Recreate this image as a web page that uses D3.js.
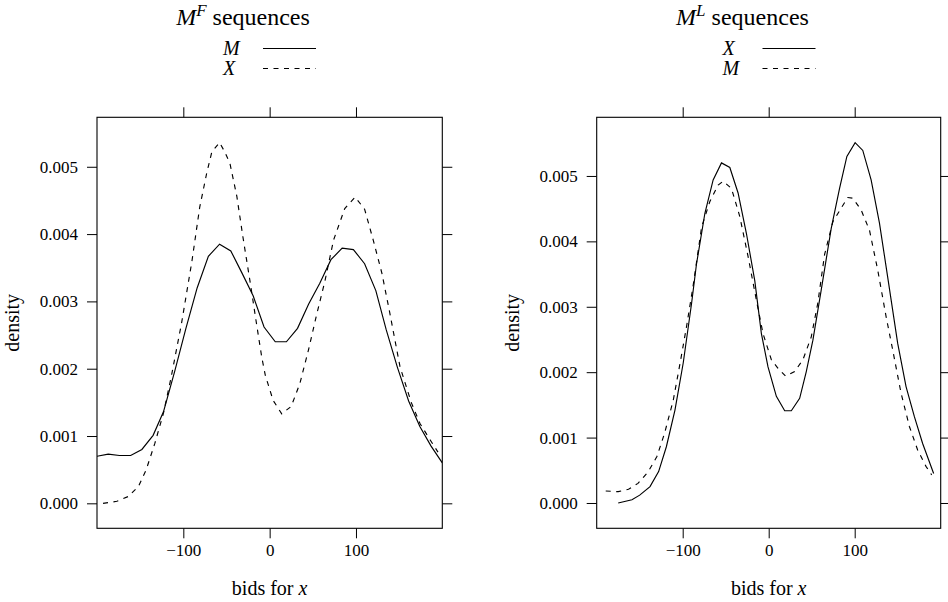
<!DOCTYPE html>
<html><head><meta charset="utf-8">
<script src="https://cdn.jsdelivr.net/npm/d3@7"></script>
<style>body{margin:0;background:#fff}svg{display:block}svg text{font-family:"Liberation Serif","Times New Roman","DejaVu Serif",serif !important;fill:#000}</style>
</head><body>
<svg id="c" width="948" height="602"></svg>
<script>
// ---- data ----
const xTicks = [-100, 0, 100];
const yTicks = [0, 0.001, 0.002, 0.003, 0.004, 0.005];

// Left panel: M^F sequences
const leftM_x = [-200,-187,-174,-161,-148,-135,-123,-110,-97,-84,-71,-58,-45,-32,-19,-6.5,6.5,19.4,32.3,45.2,58.1,71,84,97,110,123,135,148,161,174,187,200];
const leftM_y = [.00070,.00073,.00071,.00071,.00080,.00101,.00136,.00196,.00260,.00320,.00367,.00385,.00375,.00342,.00308,.00262,.00240,.00240,.00260,.00296,.00327,.00362,.00379,.00377,.00356,.00316,.00258,.00202,.00152,.00114,.00085,.00060];
const leftX_x = [-193,-177,-164,-152,-143,-133,-123,-114,-102,-90,-81,-73,-67,-58,-52,-46,-38,-31,-23,-15,-9,-5,4,14,25,35,45,54,64,74,87,99,110,120,130,139,151,164,174,186,195];
const leftX_y = [0,.00003,.00010,.00025,.00050,.00089,.00134,.00188,.00268,.00360,.00440,.00490,.00522,.00536,.00522,.00505,.00456,.00396,.00332,.00265,.00216,.00190,.00153,.00133,.00144,.00178,.00228,.00278,.00330,.00391,.00438,.00455,.00437,.00391,.00342,.00284,.00203,.00150,.00119,.00094,.00076];

// Right panel: M^L sequences
const rightX_x = [-175,-159,-150,-138,-128,-119,-109,-99.4,-89.7,-84,-74.2,-64.6,-54.9,-45.2,-35.6,-25.9,-16.2,-8.5,-0.8,8.9,18.6,26.3,36,43.7,51.4,61,72.7,82.4,90.9,100.5,109.4,119.1,128.8,138.4,150,159.7,169.4,179,191.8];
const rightX_y = [0,.00005,.00012,.00025,.00048,.00086,.00142,.00214,.00305,.00365,.00443,.00494,.00520,.00513,.00474,.00412,.00340,.00259,.00208,.00163,.00141,.00141,.00160,.00201,.00249,.00325,.00420,.00481,.00530,.00551,.00539,.00494,.00428,.00345,.00244,.00178,.00132,.00091,.00045];
const rightM_x = [-189.5,-175,-163,-152,-140,-130,-121,-111,-103,-95.5,-88,-78,-68.4,-58.8,-53,-43.3,-33.6,-24,-14.3,-6.6,3.1,10.8,19.7,30.2,39.8,49.5,57,65,74.6,84.3,92,97.8,107.5,117.2,126.8,136.5,144.2,153.9,163.6,173.2,182.9,189.5];
const rightM_y = [.000183,.000173,.00021,.00030,.00048,.00071,.00107,.00157,.00214,.00270,.00331,.00422,.00461,.00486,.00492,.00481,.00438,.00377,.00310,.00259,.00219,.00206,.00194,.00201,.00219,.00254,.00305,.00380,.00430,.00451,.00467,.00466,.00448,.00417,.00356,.00285,.00234,.00168,.00117,.00081,.00056,.00043];

const panels = [
  {sup: "F", box: [97, 442.3], yDom: [-0.000371, 0.005735], titleX: 243,
   series: [{name: "M", xs: leftM_x, ys: leftM_y, dash: null},
            {name: "X", xs: leftX_x, ys: leftX_y, dash: "5,5.5"}]},
  {sup: "L", box: [596.7, 940.7], yDom: [-0.000387, 0.005897], titleX: 742.5,
   series: [{name: "X", xs: rightX_x, ys: rightX_y, dash: null},
            {name: "M", xs: rightM_x, ys: rightM_y, dash: "5,5.5"}]}
];

const svg = d3.select("#c");
const yTop = 117.3, yBot = 528.3, tickLen = 10;
const SERIF = '"Liberation Serif", "Times New Roman", serif';

panels.forEach((p, pi) => {
  const x = d3.scaleLinear().domain([-200, 200]).range(p.box);
  const y = d3.scaleLinear().domain(p.yDom).range([yBot, yTop]);
  const g = svg.append("g").attr("font-family", SERIF);
  const fmt = d3.format(".3f");

  const cid = "clip" + pi;
  svg.append("clipPath").attr("id", cid).append("rect")
    .attr("x", p.box[0]).attr("y", yTop).attr("width", p.box[1] - p.box[0]).attr("height", yBot - yTop);

  const axB = d3.axisBottom(x).tickValues(xTicks).tickSize(tickLen).tickPadding(6).tickFormat(d3.format("d"));
  const axT = d3.axisTop(x).tickValues(xTicks).tickSize(tickLen).tickFormat("");
  const axL = d3.axisLeft(y).tickValues(yTicks).tickSize(tickLen).tickPadding(9).tickFormat(fmt);
  const axR = d3.axisRight(y).tickValues(yTicks).tickSize(tickLen).tickFormat("");
  [[axB, `translate(0,${yBot})`], [axT, `translate(0,${yTop})`], [axL, `translate(${p.box[0]},0)`], [axR, `translate(${p.box[1]},0)`]]
    .forEach(([ax, tr]) => {
      const a = g.append("g").attr("transform", tr).call(ax).attr("font-family", SERIF).attr("font-size", 17);
      a.select(".domain").remove();
      a.selectAll("line").attr("stroke", "#000").attr("stroke-width", 1);
      a.selectAll("text").attr("fill", "#000");
    });

  g.append("rect").attr("x", p.box[0]).attr("y", yTop)
    .attr("width", p.box[1] - p.box[0]).attr("height", yBot - yTop)
    .attr("fill", "none").attr("stroke", "#000").attr("stroke-width", 1.1);

  const line = d3.line().x(d => x(d[0])).y(d => y(d[1]));
  p.series.forEach(s => {
    const pts = s.xs.map((v, i) => [v, s.ys[i]]);
    g.append("path").attr("d", line(pts)).attr("clip-path", `url(#${cid})`)
      .attr("fill", "none").attr("stroke", "#000").attr("stroke-width", 1.15)
      .attr("stroke-dasharray", s.dash);
  });

  const cx = (p.box[0] + p.box[1]) / 2, cy = (yTop + yBot) / 2;
  const xl = g.append("text").attr("x", cx).attr("y", 595).attr("text-anchor", "middle").attr("font-size", 20);
  xl.append("tspan").text("bids for ");
  xl.append("tspan").attr("font-style", "italic").text("x");
  g.append("text").attr("transform", `translate(${p.box[0] - 78},${cy}) rotate(-90)`)
    .attr("text-anchor", "middle").attr("font-size", 20).text("density");

  const t = g.append("text").attr("x", p.titleX).attr("y", 25).attr("text-anchor", "middle").attr("font-size", 24);
  t.append("tspan").attr("font-style", "italic").text("M");
  t.append("tspan").attr("font-style", "italic").attr("font-size", 17).attr("dy", -9).text(p.sup);
  t.append("tspan").attr("dy", 9).text("\u00a0sequences");

  p.series.forEach((s, i) => {
    const by = 55 + i * 20;
    g.append("text").attr("x", p.titleX - 20).attr("y", by).attr("font-size", 20)
      .attr("font-style", "italic").text(s.name);
    g.append("line").attr("x1", p.titleX + 20).attr("x2", p.titleX + 73)
      .attr("y1", by - 6.5).attr("y2", by - 6.5)
      .attr("stroke", "#000").attr("stroke-width", 1.15).attr("stroke-dasharray", s.dash);
  });
});
</script>
</body></html>
